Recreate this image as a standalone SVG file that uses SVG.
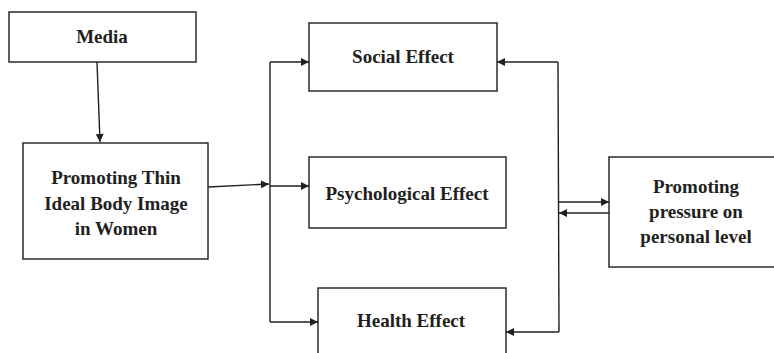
<svg xmlns="http://www.w3.org/2000/svg" width="774" height="353" viewBox="0 0 774 353">
<style>
.box{fill:#fff;stroke:#2b2b2b;stroke-width:1.5}
.lbl{font-family:"Liberation Serif","Times New Roman",serif;font-weight:bold;font-size:19px;fill:#231f20;text-anchor:middle}
.ln{fill:none;stroke:#231f20;stroke-width:1.4}
</style>
<defs>
<marker id="ah" viewBox="0 0 10 10" refX="10" refY="5" markerWidth="10" markerHeight="8" markerUnits="userSpaceOnUse" orient="auto">
<path d="M0,0 L10,5 L0,10 z" fill="#231f20"/>
</marker>
</defs>
<rect width="774" height="353" fill="#fff"/>
<g id="media"><rect class="box" x="9" y="12" width="187" height="50"/><text class="lbl" x="102" y="43">Media</text></g>
<g id="thin"><rect class="box" x="23" y="143" width="185" height="116"/>
<text class="lbl" x="116" y="184">Promoting Thin</text>
<text class="lbl" x="116" y="210">Ideal Body Image</text>
<text class="lbl" x="116" y="235">in Women</text></g>
<g id="social"><rect class="box" x="309" y="23" width="188" height="68"/><text class="lbl" x="403" y="63">Social Effect</text></g>
<g id="psych"><rect class="box" x="309" y="157" width="197" height="71"/><text class="lbl" x="407" y="200">Psychological Effect</text></g>
<g id="health"><rect class="box" x="318" y="288" width="188" height="80"/><text class="lbl" x="411" y="327">Health Effect</text></g>
<g id="pressure"><rect class="box" x="609" y="157" width="180" height="110"/>
<text class="lbl" x="696" y="193">Promoting</text>
<text class="lbl" x="696" y="218">pressure on</text>
<text class="lbl" x="696" y="243">personal level</text></g>
<g id="connectors">
<line class="ln" x1="97" y1="62" x2="100" y2="142" marker-end="url(#ah)"/>
<line class="ln" x1="208" y1="187" x2="269" y2="184" marker-end="url(#ah)"/>
<line class="ln" x1="270" y1="62" x2="270" y2="322"/>
<line class="ln" x1="270" y1="62" x2="309" y2="62" marker-end="url(#ah)"/>
<line class="ln" x1="270" y1="186" x2="309" y2="186" marker-end="url(#ah)"/>
<line class="ln" x1="270" y1="322" x2="318" y2="322" marker-end="url(#ah)"/>
<line class="ln" x1="558" y1="62" x2="559" y2="332"/>
<line class="ln" x1="558" y1="62" x2="497" y2="62" marker-end="url(#ah)"/>
<line class="ln" x1="559" y1="332" x2="506" y2="332" marker-end="url(#ah)"/>
<line class="ln" x1="559" y1="202" x2="609" y2="202" marker-end="url(#ah)"/>
<line class="ln" x1="609" y1="213" x2="559" y2="213" marker-end="url(#ah)"/>
</g>
</svg>
